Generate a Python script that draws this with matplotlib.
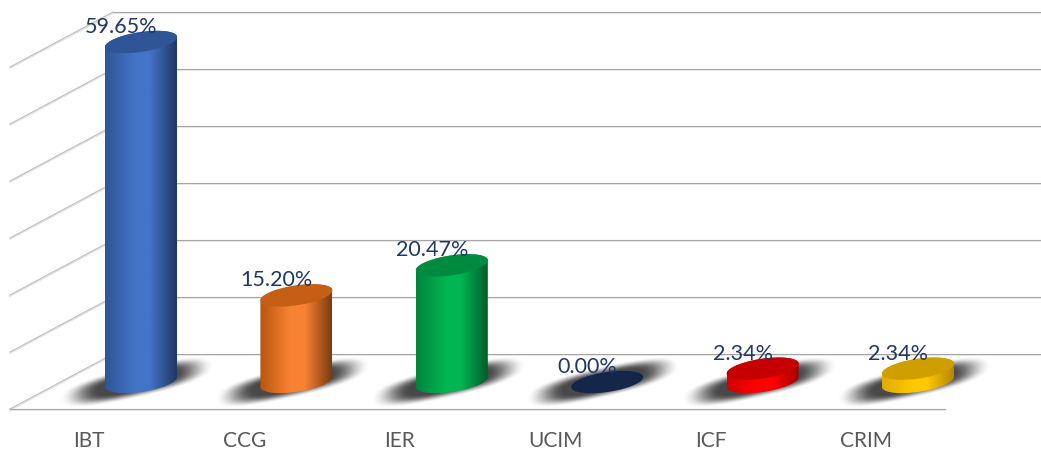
import numpy as np
import matplotlib
matplotlib.use("Agg")
import matplotlib.pyplot as plt
from matplotlib.colors import LinearSegmentedColormap
from matplotlib.patches import Polygon

categories = ["IBT", "CCG", "IER", "UCIM", "ICF", "CRIM"]
values = [59.65, 15.20, 20.47, 0.00, 2.34, 2.34]
value_labels = ["59.65%", "15.20%", "20.47%", "0.00%", "2.34%", "2.34%"]
grid_values = [0, 10, 20, 30, 40, 50, 60]

# cote gauche, milieu, cote droit, dessus
side_left = ["#2f5597", "#b8560f", "#00843c", "#14233f", "#d00000", "#e0aa00"]
side_mid = ["#4474c8", "#f88233", "#00b652", "#1a2c52", "#ff0000", "#ffc800"]
side_right = ["#1f3864", "#7a3c10", "#005c2b", "#14233f", "#a00000", "#b08400"]
top_color = ["#2f5597", "#c55f16", "#008a40", "#14264a", "#c60000", "#cf9f00"]

W, H = 1041, 451
PX_X = 155.4    # pixels par categorie
PX_Y = 5.7      # pixels par %
X0, Y0 = 141, 382  # pixel du centre de la base du 1er cylindre

fig = plt.figure(figsize=(W / 100, H / 100), dpi=100)
ax = fig.add_axes([0, 0, 1, 1])
ax.axis("off")


def px_x(p):
    return (p - X0) / PX_X


def px_y(p):
    return (Y0 - p) / PX_Y


back_off = px_y(354)    # mur du fond, valeur 0
front_off = px_y(409)   # bord avant, valeur 0
left_back, left_front = px_x(113), px_x(10)
right_back, right_front = px_x(1041), px_x(945)

# grille
for off_px, col, lw in [(1.2, "#e6e6e6", 1.2), (0, "#a6a6a6", 0.8)]:
    dy = off_px / PX_Y
    for v in grid_values:
        ax.plot([left_back, right_back], [v + back_off - dy] * 2, color=col, lw=lw, zorder=1)
        ax.plot([left_front, left_back], [v + front_off - dy, v + back_off - dy],
                color="#bdbdbd" if off_px == 0 else col, lw=lw, zorder=1)
    ax.plot([left_front, right_front], [front_off - dy] * 2, color=col, lw=lw, zorder=1)

half_w = 36 / PX_X
skew = 5 / PX_Y
semi_b = 10 / PX_Y
t = np.linspace(0, 2 * np.pi, 200)


def ellipse(i, v):
    return np.column_stack([
        i + half_w * np.cos(t),
        v + semi_b * np.sin(t) + skew * np.cos(t),
    ])


# ombres floues
gx = np.linspace(-100, 100, 401)
gy = np.linspace(-40, 40, 161)
xx, yy = np.meshgrid(gx, gy)
yy2 = yy - xx * (8 / 36)
dist = ((np.abs(xx) / 72) ** 2.6 + (np.abs(yy2) / 15) ** 2.6) ** (1 / 2.6)
ramp = np.clip((1.08 - dist) / 0.55, 0, 1)
alpha = ramp * ramp * (3 - 2 * ramp) * 0.72
shadow = np.zeros(xx.shape + (4,))
shadow[..., 3] = alpha
for i in range(len(categories)):
    cx = i - 4 / PX_X
    ax.imshow(shadow, origin="lower", aspect="auto", zorder=2, interpolation="bilinear",
              extent=[cx - 100 / PX_X, cx + 100 / PX_X, -40 / PX_Y, 40 / PX_Y])

# cylindres
for i, v in enumerate(values):
    if v > 0:
        cmap = LinearSegmentedColormap.from_list(
            "c", [(0, side_left[i]), (0.42, side_mid[i]), (0.62, side_mid[i]), (1, side_right[i])])
        grad = np.linspace(0, 1, 256).reshape(1, -1)
        tt = np.linspace(np.pi, 2 * np.pi, 80)
        low = np.column_stack([i + half_w * np.cos(tt), semi_b * np.sin(tt) + skew * np.cos(tt)])
        tt2 = np.linspace(0, np.pi, 80)
        up = np.column_stack([i + half_w * np.cos(tt2), v + semi_b * np.sin(tt2) + skew * np.cos(tt2)])
        body = Polygon(np.vstack([low, up]), closed=True, transform=ax.transData, fc="none", ec="none")
        ax.add_patch(body)
        im = ax.imshow(grad, cmap=cmap, aspect="auto", zorder=3,
                       extent=[i - half_w, i + half_w, -3, v + 3])
        im.set_clip_path(body)
    ax.add_patch(Polygon(ellipse(i, v), closed=True, fc=top_color[i], ec="none", zorder=4))

# etiquettes
for i, v in enumerate(values):
    ax.text(i - 20 / PX_X, v + 15 / PX_Y, value_labels[i], ha="center", va="center",
            fontsize=15.5, color="#1f3864", family="Lato", zorder=5)
    ax.text(i - 52 / PX_X, px_y(441), categories[i], ha="center", va="center",
            fontsize=15, color="#595959", family="Lato", zorder=5)

ax.set_xlim(-X0 / PX_X, (W - X0) / PX_X)
ax.set_ylim((Y0 - H) / PX_Y, Y0 / PX_Y)

fig.savefig("out.png", dpi=100, facecolor="white")
